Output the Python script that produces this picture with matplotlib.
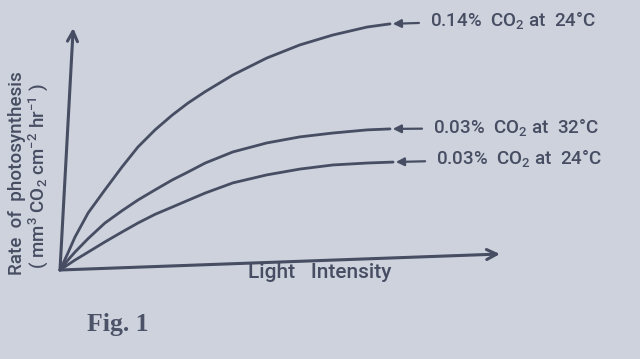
import matplotlib
matplotlib.use('Agg')
import matplotlib.pyplot as plt

# curvas (intensidade luminosa x taxa de fotossintese)

luz_014_24 = [0, 0.18, 0.34, 0.64, 1.02, 1.41, 1.77, 2.16, 2.55, 2.91, 3.30,
              3.93, 4.70, 5.45, 6.20, 6.98, 7.50]
taxa_014_24 = [0, 0.70, 1.36, 2.36, 3.31, 4.26, 5.08, 5.79, 6.40, 6.90, 7.37,
               8.06, 8.76, 9.30, 9.71, 10.04, 10.17]

luz_003_32 = [0, 0.18, 0.34, 0.64, 1.02, 1.41, 1.77, 2.16, 2.55, 2.91, 3.30,
              3.93, 4.70, 5.45, 6.20, 6.98, 7.50]
taxa_003_32 = [0, 0.41, 0.74, 1.30, 1.94, 2.45, 2.89, 3.31, 3.72, 4.05, 4.42,
               4.88, 5.25, 5.50, 5.66, 5.79, 5.83]

luz_003_24 = [0, 0.34, 0.64, 1.02, 1.41, 1.77, 2.16, 2.55, 2.91, 3.30,
              3.93, 4.70, 5.45, 6.20, 6.98, 7.57]
taxa_003_24 = [0, 0.41, 0.74, 1.16, 1.57, 1.94, 2.30, 2.60, 2.88, 3.18,
               3.60, 3.93, 4.17, 4.34, 4.42, 4.46]

rotulos = ['0.14%  CO$_2$ at  24°C', '0.03%  CO$_2$ at  32°C', '0.03%  CO$_2$ at  24°C']
pos_rotulos = [(8.41, 10.33), (8.48, 5.87), (8.55, 4.59)]

papel = '#cdd2dc'
tinta = '#474d62'

plt.rcParams['font.family'] = ['Roboto', 'DejaVu Sans']
plt.rcParams['mathtext.default'] = 'regular'

fig = plt.figure(figsize=(6.4, 3.59), dpi=100, facecolor=papel)
ax = fig.add_axes([0, 0, 1, 1])
ax.set_facecolor(papel)
ax.set_xlim(-60 / 44, 580 / 44)
ax.set_ylim(-89 / 24.2, 270 / 24.2)
ax.axis('off')

curvas = [(luz_014_24, taxa_014_24), (luz_003_32, taxa_003_32), (luz_003_24, taxa_003_24)]
for (x, y), texto, pos in zip(curvas, rotulos, pos_rotulos):
    ax.plot(x, y, color=tinta, lw=2.0, solid_capstyle='round', solid_joinstyle='round')
    ax.annotate(texto, xy=(x[-1], y[-1]), xytext=pos, ha='left', va='center',
                fontsize=13.5, fontweight='medium', color=tinta,
                arrowprops=dict(arrowstyle='-|>', color=tinta, lw=1.6,
                                shrinkA=6, shrinkB=2, mutation_scale=12))

# eixos com setas
ax.annotate('', xy=(0.3, 10.0), xytext=(0, 0),
            arrowprops=dict(arrowstyle='->', color=tinta, lw=2.2, mutation_scale=18,
                            shrinkA=0, shrinkB=0))
ax.annotate('', xy=(10.0, 0.66), xytext=(0, 0),
            arrowprops=dict(arrowstyle='->', color=tinta, lw=2.2, mutation_scale=18,
                            shrinkA=0, shrinkB=0))

fig.text(17 / 640, 1 - 173 / 359, 'Rate  of  photosynthesis', rotation=90,
         ha='center', va='center', fontsize=13.5, fontweight='medium', color=tinta)
fig.text(38 / 640, 1 - 176 / 359, '( mm$^3$ CO$_2$ cm$^{-2}$ hr$^{-1}$ )', rotation=90,
         ha='center', va='center', fontsize=13.5, fontweight='medium', color=tinta)
fig.text(320 / 640, 1 - 273 / 359, 'Light   Intensity', ha='center', va='center',
         fontsize=15, fontweight='medium', color=tinta)
fig.text(87 / 640, 1 - 325 / 359, 'Fig. 1', ha='left', va='center',
         fontsize=18.5, fontweight='bold', family='Liberation Serif', color='#4c5267')

fig.savefig('out.png', dpi=100, facecolor=papel)
